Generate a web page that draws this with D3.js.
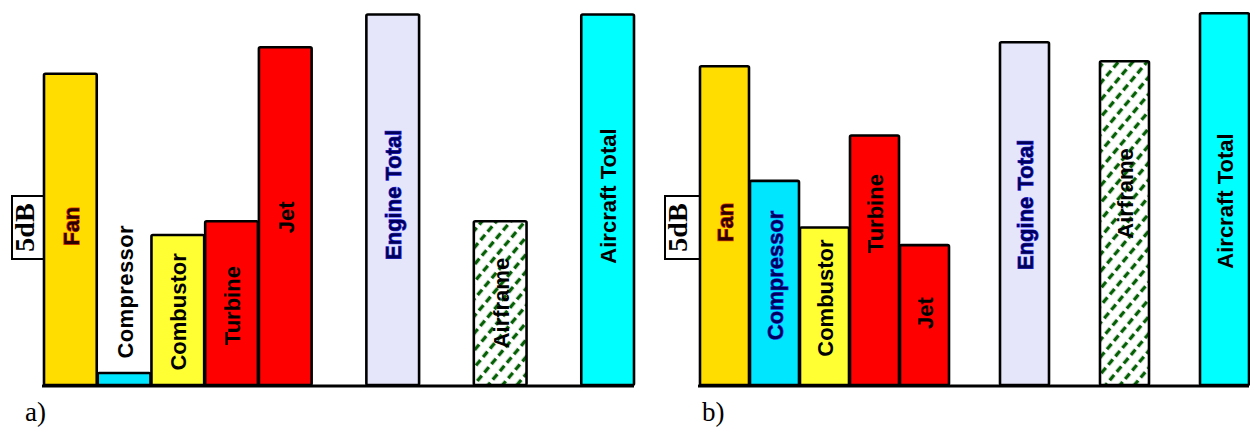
<!DOCTYPE html>
<html>
<head>
<meta charset="utf-8">
<script src="https://cdn.jsdelivr.net/npm/d3@7"></script>
<style>
  html, body { margin: 0; padding: 0; background: #fff; }
  svg { display: block; }
</style>
</head>
<body>
<div id="chart"></div>
<script>
// noise source levels, dB above the common floor
const categories = ["Fan", "Compressor", "Combustor", "Turbine", "Jet", "Engine Total", "Airframe", "Aircraft Total"];
// slot order with empty gaps between the groups
const slots = ["Fan", "Compressor", "Combustor", "Turbine", "Jet", "gap1", "Engine Total", "gap2", "Airframe", "gap3", "Aircraft Total"];

const levelsA = [24.7, 0.95, 11.9, 13.0, 26.8, 29.4, 13.0, 29.4];
const levelsB = [25.3, 16.2, 12.5, 19.8, 11.1, 27.2, 25.7, 29.5];

// where the label sits along the bar (dB)
const labelAtA = [12.6, 7.4, 5.8, 6.3, 13.3, 15.1, 6.5, 15.0];
const labelAtB = [12.9, 8.7, 6.9, 13.6, 5.7, 14.3, 15.2, 14.6];

const scaleBar = [10, 15];   // the "5dB" reference bracket
const panelNames = ["a)", "b)"];

const fills = {
  "Fan": "#FFDD00",
  "Compressor": "#00E6FF",
  "Combustor": "#FFFF33",
  "Turbine": "#FF0000",
  "Jet": "#FF0000",
  "Engine Total": "#E6E6FA",
  "Airframe": "url(#hatch)",
  "Aircraft Total": "#00FFFF"
};
const textStyle = {
  "Fan": {fill: "#2a0000", stroke: "#e84000", sw: 1.3},
  "Engine Total": {fill: "#00005a", stroke: "#3a3aff", sw: 1},
  "Compressor": {fill: "#00005a", stroke: "#2050ff", sw: 1}
};

const width = 1250, height = 428;
const svg = d3.select("#chart").append("svg")
  .attr("width", width)
  .attr("height", height);

// hatched fill for the airframe bar
const defs = svg.append("defs");
const pat = defs.append("pattern")
  .attr("id", "hatch")
  .attr("patternUnits", "userSpaceOnUse")
  .attr("width", 11)
  .attr("height", 11)
  .attr("patternTransform", "rotate(40)");
pat.append("rect").attr("width", 11).attr("height", 11).attr("fill", "#fff");
pat.append("line")
  .attr("x1", 5.5).attr("y1", 0).attr("x2", 5.5).attr("y2", 11)
  .attr("stroke", "#055f05")
  .attr("stroke-width", 3.4)
  .attr("stroke-dasharray", "7,4");

const y = d3.scaleLinear().domain([0, 30]).range([385, 7]);

const panels = [
  {levels: levelsA, labelAt: labelAtA, range: [43, 634], barX: 12, name: panelNames[0], nameX: 25, plainCompressor: true},
  {levels: levelsB, labelAt: labelAtB, range: [699, 1249], barX: 665, name: panelNames[1], nameX: 702, plainCompressor: false}
];

panels.forEach(p => {
  const x = d3.scaleBand().domain(slots).range(p.range).paddingInner(0);
  const data = categories.map((c, i) => ({cat: c, value: p.levels[i], at: p.labelAt[i]}));
  const g = svg.append("g");

  g.selectAll("rect.bar")
    .data(data)
    .enter()
    .append("rect")
    .attr("class", "bar")
    .attr("x", d => x(d.cat) + 1)
    .attr("y", d => y(d.value))
    .attr("width", x.bandwidth() - 1)
    .attr("height", d => y(0) - y(d.value))
    .attr("rx", 1.5)
    .attr("fill", d => fills[d.cat])
    .attr("stroke", "#000")
    .attr("stroke-width", 2.6);

  g.selectAll("text.lbl")
    .data(data)
    .enter()
    .append("text")
    .attr("class", "lbl")
    .attr("transform", d => "translate(" + (x(d.cat) + x.bandwidth() / 2 + 1) + "," + y(d.at) + ") rotate(-90)")
    .attr("text-anchor", "middle")
    .attr("dy", "0.36em")
    .style("font-family", "'Liberation Sans', Arial, sans-serif")
    .style("font-size", "22px")
    .style("font-weight", "bold")
    .style("letter-spacing", d => (d.cat === "Compressor" && p.plainCompressor) ? "0.4px" : "0px")
    .style("paint-order", "stroke")
    .style("fill", d => {
      if (d.cat === "Compressor" && p.plainCompressor) return "#000";
      return textStyle[d.cat] ? textStyle[d.cat].fill : "#000";
    })
    .style("stroke", d => {
      if (d.cat === "Compressor" && p.plainCompressor) return "none";
      return textStyle[d.cat] ? textStyle[d.cat].stroke : "none";
    })
    .style("stroke-width", d => textStyle[d.cat] ? textStyle[d.cat].sw : 0)
    .text(d => d.cat);

  // baseline
  g.append("line")
    .attr("x1", p.range[0] - 1).attr("x2", p.range[1])
    .attr("y1", y(0) + 1).attr("y2", y(0) + 1)
    .attr("stroke", "#000")
    .attr("stroke-width", 3);

  // 5 dB bracket
  const left = p.range[0];
  const bracket = d3.path();
  bracket.moveTo(left, y(scaleBar[1]));
  bracket.lineTo(p.barX, y(scaleBar[1]));
  bracket.lineTo(p.barX, y(scaleBar[0]));
  bracket.lineTo(left, y(scaleBar[0]));
  g.append("path")
    .attr("d", bracket.toString())
    .attr("fill", "none")
    .attr("stroke", "#000")
    .attr("stroke-width", 2);

  g.append("text")
    .attr("transform", "translate(" + (p.barX + 22) + "," + y((scaleBar[0] + scaleBar[1]) / 2) + ") rotate(-90)")
    .attr("text-anchor", "middle")
    .style("font-family", "'Liberation Serif', 'Times New Roman', serif")
    .style("font-size", "28px")
    .style("font-weight", "bold")
    .text((scaleBar[1] - scaleBar[0]) + "dB");

  g.append("text")
    .attr("x", p.nameX)
    .attr("y", 421)
    .style("font-family", "'Liberation Serif', 'Times New Roman', serif")
    .style("font-size", "27px")
    .text(p.name);
});
</script>
</body>
</html>
